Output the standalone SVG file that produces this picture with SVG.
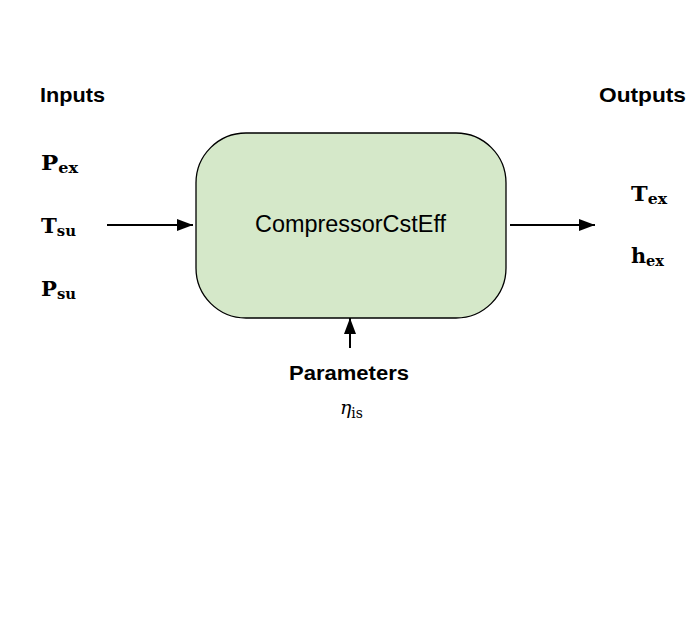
<svg xmlns="http://www.w3.org/2000/svg" width="696" height="636" viewBox="0 0 696 636">
<style>
.hdr{font-family:"Liberation Sans",Arial,sans-serif;font-weight:bold;font-size:20px;fill:#000}
.m{font-family:"DejaVu Serif","Liberation Serif",serif;font-weight:bold;font-size:20px;fill:#000}
.sub{font-size:14px}
.lbl{font-family:"Liberation Sans",Arial,sans-serif;font-size:23px;fill:#000}
.conn{stroke:#000;stroke-width:2;fill:none}
</style>
<defs>
<marker id="ah" markerWidth="16" markerHeight="12" refX="16" refY="6" orient="auto" markerUnits="userSpaceOnUse">
<path d="M0,0 L16,6 L0,12 Z" fill="#000"/>
</marker>
</defs>
<rect width="696" height="636" fill="#fff"/>
<g id="inputs">
<text class="hdr" x="40" y="102" textLength="65" lengthAdjust="spacingAndGlyphs">Inputs</text>
<text class="m" x="41" y="170" textLength="37" lengthAdjust="spacingAndGlyphs">P<tspan class="sub" dy="3">ex</tspan></text>
<text class="m" x="41" y="233" textLength="35" lengthAdjust="spacingAndGlyphs">T<tspan class="sub" dy="3">su</tspan></text>
<text class="m" x="41" y="296" textLength="35" lengthAdjust="spacingAndGlyphs">P<tspan class="sub" dy="3">su</tspan></text>
</g>
<g id="outputs">
<text class="hdr" x="599" y="102" textLength="87" lengthAdjust="spacingAndGlyphs">Outputs</text>
<text class="m" x="631" y="201" textLength="36" lengthAdjust="spacingAndGlyphs">T<tspan class="sub" dy="3">ex</tspan></text>
<text class="m" x="631" y="263" textLength="33" lengthAdjust="spacingAndGlyphs">h<tspan class="sub" dy="3">ex</tspan></text>
</g>
<g id="compressor">
<rect x="196" y="133" width="310" height="185" rx="50" ry="50" fill="#d5e8c9" stroke="#000" stroke-width="1.3"/>
<text class="lbl" x="255" y="232" textLength="191" lengthAdjust="spacingAndGlyphs">CompressorCstEff</text>
</g>
<g id="parameters">
<text class="hdr" x="289" y="380" textLength="120" lengthAdjust="spacingAndGlyphs">Parameters</text>
<text x="340" y="414" font-family="'DejaVu Serif','Liberation Serif',serif" font-size="19" font-style="italic" textLength="23" lengthAdjust="spacingAndGlyphs">η<tspan font-style="normal" font-size="14" dy="4">is</tspan></text>
</g>
<g id="connectors">
<line class="conn" x1="107" y1="225" x2="193" y2="225" marker-end="url(#ah)"/>
<line class="conn" x1="510" y1="225" x2="595" y2="225" marker-end="url(#ah)"/>
<line class="conn" x1="350" y1="348" x2="350" y2="318" marker-end="url(#ah)"/>
</g>
</svg>
